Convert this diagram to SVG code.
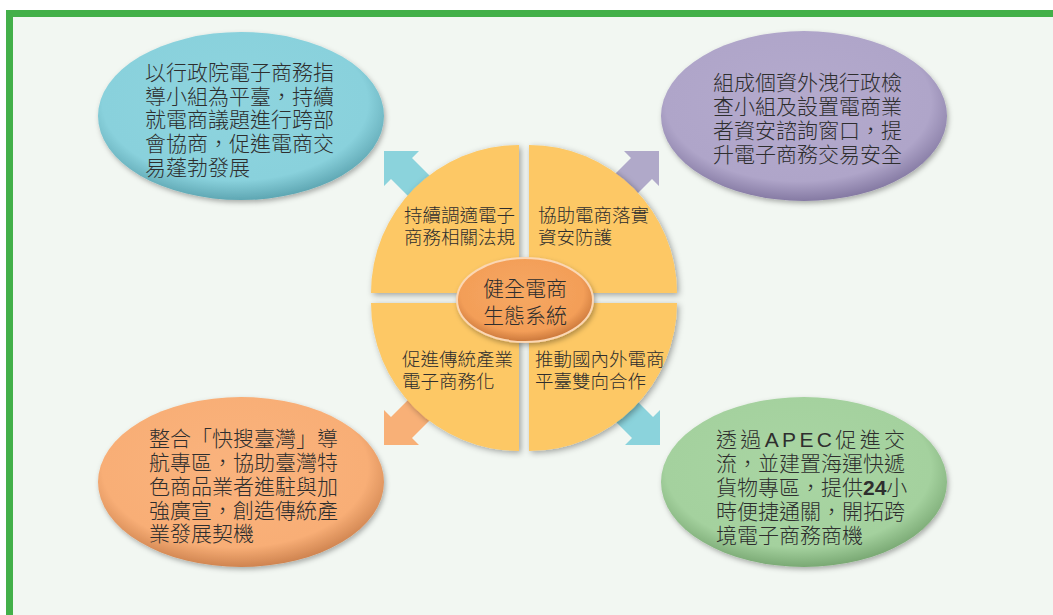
<svg xmlns="http://www.w3.org/2000/svg" width="1053" height="615" viewBox="0 0 1053 615">
<style>
.t{font-family:"Liberation Sans","Noto Sans CJK TC",sans-serif;fill:#2e2e2e;font-weight:300;}
.e{font-size:21px;}
.q{font-size:18.5px;}
.c{font-size:21px;text-anchor:middle;}
</style>
<defs>
<radialGradient id="gB" cx="48%" cy="42%" r="58%"><stop offset="0" stop-color="#8ed4de"/><stop offset="0.8" stop-color="#89d1dc"/><stop offset="1" stop-color="#5fa7b3"/></radialGradient>
<radialGradient id="gP" cx="48%" cy="42%" r="58%"><stop offset="0" stop-color="#b4aacd"/><stop offset="0.8" stop-color="#afa5c9"/><stop offset="1" stop-color="#857aa3"/></radialGradient>
<radialGradient id="gO" cx="48%" cy="42%" r="58%"><stop offset="0" stop-color="#fab37d"/><stop offset="0.8" stop-color="#f8ae76"/><stop offset="1" stop-color="#cf8450"/></radialGradient>
<radialGradient id="gG" cx="48%" cy="42%" r="58%"><stop offset="0" stop-color="#a9d5a3"/><stop offset="0.8" stop-color="#a4d19e"/><stop offset="1" stop-color="#7aa974"/></radialGradient>
<radialGradient id="gC" cx="48%" cy="42%" r="58%"><stop offset="0" stop-color="#f6a862"/><stop offset="0.78" stop-color="#f39e58"/><stop offset="1" stop-color="#c9763a"/></radialGradient>
<filter id="sh" x="-10%" y="-10%" width="125%" height="130%"><feDropShadow dx="1.5" dy="2.5" stdDeviation="2.5" flood-color="#000" flood-opacity="0.3"/></filter>
<filter id="shq" x="-10%" y="-10%" width="125%" height="125%"><feDropShadow dx="2" dy="2" stdDeviation="3" flood-color="#000" flood-opacity="0.35"/></filter>
<polygon id="arr" points="0,0 35,0 28,7 68,47 47,68 7,28 0,35"/>
</defs>
<rect x="0" y="0" width="1053" height="615" fill="#fff"/>
<rect x="9.5" y="13.5" width="1100" height="700" fill="#f2f7f2" stroke="#43b049" stroke-width="7"/>

<g id="connectors">
<use href="#arr" transform="translate(384,151)" fill="#8bd3dc"/>
<use href="#arr" transform="translate(659,151) scale(-1,1)" fill="#b0a9c9"/>
<use href="#arr" transform="translate(384,445) scale(1,-1)" fill="#f8b077"/>
<use href="#arr" transform="translate(660,445) scale(-1,-1)" fill="#8bd3dc"/>
</g>

<g id="hub" filter="url(#shq)">
<path d="M519,293 L371,293 A148,148 0 0 1 519,145 Z" fill="#fdc865"/>
<path d="M529,293 L529,145 A148,148 0 0 1 677,293 Z" fill="#fdc865"/>
<path d="M519,303 L519,451 A148,148 0 0 1 371,303 Z" fill="#fdc865"/>
<path d="M529,303 L677,303 A148,148 0 0 1 529,451 Z" fill="#fdc865"/>
</g>

<g id="q-tl"><text class="t q" x="404" y="222">持續調適電子</text><text class="t q" x="404" y="244">商務相關法規</text></g>
<g id="q-tr"><text class="t q" x="538" y="222">協助電商落實</text><text class="t q" x="538" y="244">資安防護</text></g>
<g id="q-bl"><text class="t q" x="402" y="366">促進傳統產業</text><text class="t q" x="402" y="388">電子商務化</text></g>
<g id="q-br"><text class="t q" x="535" y="366">推動國內外電商</text><text class="t q" x="535" y="388">平臺雙向合作</text></g>

<g id="center">
<ellipse cx="525" cy="300" rx="68" ry="42" fill="url(#gC)" stroke="#fbd7b4" stroke-width="2" filter="url(#sh)"/>
<text class="t c" x="525" y="296">健全電商</text>
<text class="t c" x="525" y="323">生態系統</text>
</g>

<g id="node-tl">
<ellipse cx="241" cy="116" rx="143" ry="84" fill="url(#gB)" filter="url(#sh)"/>
<text class="t e" x="145" y="80">以行政院電子商務指</text>
<text class="t e" x="145" y="104">導小組為平臺，持續</text>
<text class="t e" x="145" y="127">就電商議題進行跨部</text>
<text class="t e" x="145" y="151">會協商，促進電商交</text>
<text class="t e" x="145" y="175">易蓬勃發展</text>
</g>

<g id="node-tr">
<ellipse cx="804" cy="116" rx="143" ry="85" fill="url(#gP)" filter="url(#sh)"/>
<text class="t e" x="713" y="90">組成個資外洩行政檢</text>
<text class="t e" x="713" y="114">查小組及設置電商業</text>
<text class="t e" x="713" y="138">者資安諮詢窗口，提</text>
<text class="t e" x="713" y="162">升電子商務交易安全</text>
</g>

<g id="node-bl">
<ellipse cx="241" cy="482" rx="143" ry="85" fill="url(#gO)" filter="url(#sh)"/>
<text class="t e" x="149" y="446">整合「快搜臺灣」導</text>
<text class="t e" x="149" y="470">航專區，協助臺灣特</text>
<text class="t e" x="149" y="494">色商品業者進駐與加</text>
<text class="t e" x="149" y="518">強廣宣，創造傳統產</text>
<text class="t e" x="149" y="541">業發展契機</text>
</g>

<g id="node-br">
<ellipse cx="804" cy="482" rx="143" ry="85" fill="url(#gG)" filter="url(#sh)"/>
<text class="t e" x="716" y="447" textLength="189" lengthAdjust="spacing">透過APEC促進交</text>
<text class="t e" x="716" y="471">流，並建置海運快遞</text>
<text class="t e" x="716" y="495">貨物專區，提供<tspan font-weight="bold">24</tspan>小</text>
<text class="t e" x="716" y="519">時便捷通關，開拓跨</text>
<text class="t e" x="716" y="543">境電子商務商機</text>
</g>
</svg>
